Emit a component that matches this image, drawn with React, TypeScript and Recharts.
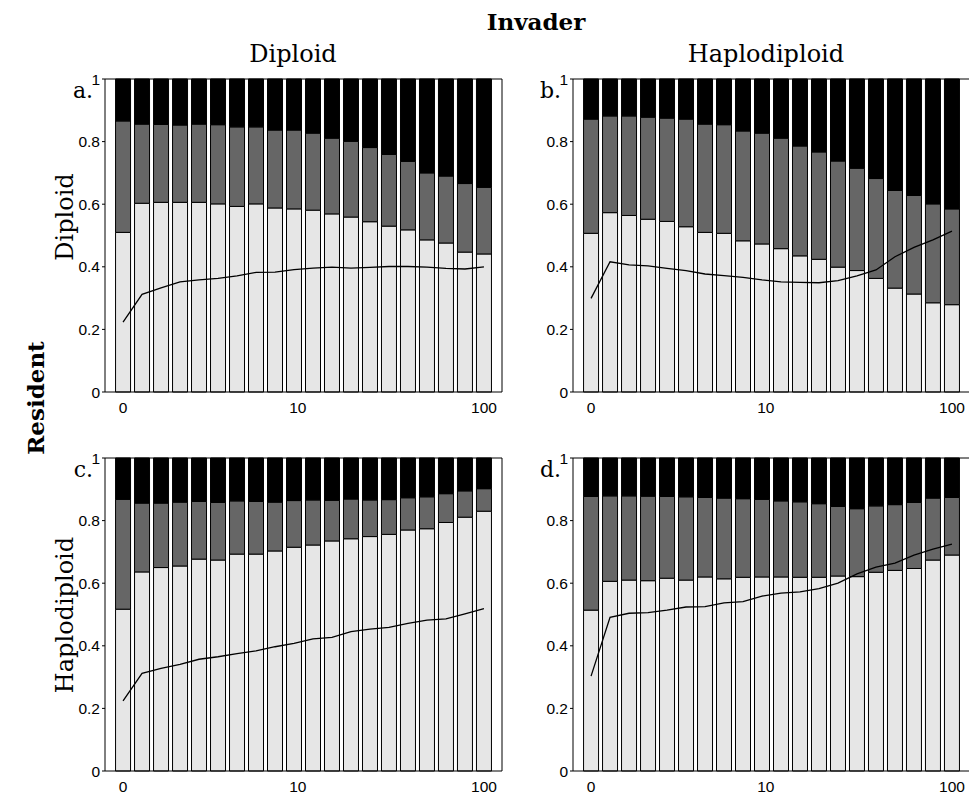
import React from 'react';
import { ComposedChart, Bar, Line, XAxis, YAxis, ReferenceLine } from 'recharts';

// bar slots along the x axis (log-ish spacing, labelled 0 / 10 / 100)
const barSlots = [0, 1, 2, 3, 4, 5, 6, 7, 8, 9, 10, 11, 12, 13, 14, 15, 16, 17, 18, 19];
const xTicks = [0, 9.2, 19];
const xTickLabels = ['0', '10', '100'];
const yTicks = [0, 0.2, 0.4, 0.6, 0.8, 1];
const yTickLabels = ['0', '0.2', '0.4', '0.6', '0.8', '1'];

// a. resident diploid / invader diploid
const aLight = [0.510, 0.603, 0.606, 0.606, 0.606, 0.601, 0.593, 0.601, 0.588, 0.585, 0.581, 0.569, 0.559, 0.544, 0.530, 0.518, 0.486, 0.476, 0.447, 0.441];
const aDark = [0.866, 0.856, 0.855, 0.853, 0.856, 0.854, 0.847, 0.847, 0.837, 0.837, 0.827, 0.811, 0.801, 0.781, 0.759, 0.737, 0.700, 0.690, 0.666, 0.654];
const aLine = [0.223, 0.312, 0.333, 0.352, 0.358, 0.363, 0.371, 0.382, 0.383, 0.391, 0.396, 0.399, 0.396, 0.398, 0.401, 0.401, 0.399, 0.395, 0.393, 0.400];

// b. resident diploid / invader haplodiploid
const bLight = [0.507, 0.573, 0.564, 0.552, 0.545, 0.528, 0.510, 0.507, 0.483, 0.473, 0.458, 0.435, 0.424, 0.399, 0.388, 0.363, 0.332, 0.313, 0.285, 0.279];
const bDark = [0.872, 0.882, 0.882, 0.878, 0.875, 0.872, 0.856, 0.854, 0.834, 0.827, 0.811, 0.786, 0.767, 0.738, 0.715, 0.682, 0.644, 0.628, 0.601, 0.585];
const bLine = [0.299, 0.416, 0.406, 0.403, 0.395, 0.388, 0.377, 0.372, 0.366, 0.358, 0.352, 0.350, 0.349, 0.356, 0.371, 0.390, 0.432, 0.462, 0.486, 0.514];

// c. resident haplodiploid / invader diploid
const cLight = [0.517, 0.636, 0.650, 0.655, 0.677, 0.674, 0.693, 0.693, 0.703, 0.715, 0.722, 0.735, 0.742, 0.749, 0.756, 0.770, 0.774, 0.794, 0.811, 0.830];
const cDark = [0.868, 0.856, 0.856, 0.859, 0.861, 0.858, 0.863, 0.861, 0.859, 0.864, 0.866, 0.865, 0.869, 0.866, 0.867, 0.873, 0.876, 0.886, 0.895, 0.902];
const cLine = [0.224, 0.312, 0.328, 0.341, 0.357, 0.365, 0.375, 0.384, 0.397, 0.408, 0.422, 0.427, 0.445, 0.453, 0.459, 0.472, 0.482, 0.486, 0.502, 0.519];

// d. resident haplodiploid / invader haplodiploid
const dLight = [0.514, 0.606, 0.610, 0.608, 0.616, 0.610, 0.620, 0.614, 0.619, 0.620, 0.620, 0.619, 0.619, 0.623, 0.621, 0.635, 0.641, 0.647, 0.674, 0.690];
const dDark = [0.877, 0.879, 0.879, 0.878, 0.877, 0.876, 0.874, 0.872, 0.870, 0.868, 0.863, 0.860, 0.854, 0.845, 0.838, 0.847, 0.851, 0.858, 0.872, 0.874];
const dLine = [0.303, 0.491, 0.504, 0.506, 0.514, 0.524, 0.525, 0.537, 0.541, 0.559, 0.568, 0.572, 0.583, 0.600, 0.630, 0.651, 0.664, 0.690, 0.709, 0.725];

const PLOT_W = 397;
const PLOT_H = 313;
const Y_AXIS_W = 60;
const X_AXIS_H = 30;
const M_TOP = 10;
const M_RIGHT = 10;

const SERIF = '"DejaVu Serif", serif';
const SANS = '"Liberation Sans", Arial, sans-serif';
const TICK_FONT = 15.5;

function RightTick(props: any) {
  const { x, y } = props;
  return <line x1={x - 5} x2={x} y1={y} y2={y} stroke="#000" strokeWidth={1} />;
}

function LeftTick(props: any) {
  const { x, y, payload } = props;
  return (
    <text x={x} y={y} dy="0.36em" textAnchor="end" fill="#000" fontSize={TICK_FONT} fontFamily={SANS}>
      {yTickLabels[yTicks.indexOf(payload.value)]}
    </text>
  );
}

function BottomTick(props: any) {
  const { x, y, payload } = props;
  return (
    <text x={x} y={y} dy="0.75em" textAnchor="middle" fill="#000" fontSize={TICK_FONT} fontFamily={SANS}>
      {xTickLabels[xTicks.indexOf(payload.value)]}
    </text>
  );
}

interface PanelProps {
  light: number[];
  dark: number[];
  line: number[];
  left: number;
  top: number;
}

function Panel({ light, dark, line, left, top }: PanelProps) {
  const data = barSlots.map((s, i) => ({
    slot: s,
    low: light[i],
    mid: dark[i] - light[i],
    high: 1 - dark[i],
    line: line[i],
  }));

  return (
    <div style={{ position: 'absolute', left: left - Y_AXIS_W, top: top - M_TOP }}>
      <ComposedChart
        width={Y_AXIS_W + PLOT_W + 1 + M_RIGHT}
        height={M_TOP + PLOT_H + X_AXIS_H}
        data={data}
        margin={{ top: M_TOP, right: M_RIGHT, left: 0, bottom: 0 }}
      >
        <XAxis
          dataKey="slot"
          type="number"
          domain={[-0.95, 19.95]}
          ticks={xTicks}
          interval={0}
          allowDataOverflow
          tickLine={false}
          tickSize={0}
          tickMargin={9}
          height={X_AXIS_H}
          axisLine={{ stroke: '#000', strokeWidth: 1 }}
          tick={BottomTick}
        />
        <YAxis
          yAxisId="l"
          type="number"
          domain={[0, 1]}
          ticks={yTicks}
          interval={0}
          width={Y_AXIS_W}
          tickSize={3}
          tickMargin={2}
          tickLine={{ stroke: '#000' }}
          axisLine={{ stroke: '#000', strokeWidth: 1 }}
          tick={LeftTick}
        />
        <YAxis
          yAxisId="r"
          orientation="right"
          type="number"
          domain={[0, 1]}
          ticks={yTicks}
          interval={0}
          width={1}
          tickSize={0}
          tickMargin={0}
          tickLine={false}
          tick={RightTick}
          axisLine={{ stroke: '#000', strokeWidth: 1 }}
        />
        <Bar yAxisId="l" dataKey="low" stackId="s" fill="#e6e6e6" stroke="#000" strokeWidth={1} barSize={15} isAnimationActive={false} />
        <Bar yAxisId="l" dataKey="mid" stackId="s" fill="#666666" stroke="#000" strokeWidth={1} barSize={15} isAnimationActive={false} />
        <Bar yAxisId="l" dataKey="high" stackId="s" fill="#000000" stroke="#000" strokeWidth={1} barSize={15} isAnimationActive={false} />
        <Line yAxisId="l" type="linear" dataKey="line" stroke="#000" strokeWidth={1.3} dot={false} isAnimationActive={false} />
        <ReferenceLine yAxisId="l" y={1} stroke="#000" strokeWidth={1} />
      </ComposedChart>
    </div>
  );
}

const panels = [
  { letter: 'a.', light: aLight, dark: aDark, line: aLine, left: 105, top: 79 },
  { letter: 'b.', light: bLight, dark: bDark, line: bLine, left: 573, top: 79 },
  { letter: 'c.', light: cLight, dark: cDark, line: cLine, left: 105, top: 458 },
  { letter: 'd.', light: dLight, dark: dDark, line: dLine, left: 573, top: 458 },
];

export default function App() {
  return (
    <div
      style={{
        position: 'absolute',
        left: 0,
        top: 0,
        width: 969,
        height: 794,
        overflow: 'hidden',
        background: '#fff',
      }}
    >
      {panels.map((p) => (
        <Panel key={p.letter} light={p.light} dark={p.dark} line={p.line} left={p.left} top={p.top} />
      ))}

      {/* titles, row labels and panel letters */}
      <svg width={969} height={794} style={{ position: 'absolute', left: 0, top: 0, pointerEvents: 'none' }}>
        <text x={536} y={30} textAnchor="middle" fontFamily={SERIF} fontWeight="bold" fontSize={23}>Invader</text>
        <text x={293} y={62} textAnchor="middle" fontFamily={SERIF} fontSize={24}>Diploid</text>
        <text x={766} y={62} textAnchor="middle" fontFamily={SERIF} fontSize={24}>Haplodiploid</text>
        <text transform="translate(44,398) rotate(-90)" textAnchor="middle" fontFamily={SERIF} fontWeight="bold" fontSize={23}>Resident</text>
        <text transform="translate(73,217) rotate(-90)" textAnchor="middle" fontFamily={SERIF} fontSize={24}>Diploid</text>
        <text transform="translate(73,615) rotate(-90)" textAnchor="middle" fontFamily={SERIF} fontSize={24}>Haplodiploid</text>
        {panels.map((p) => (
          <text key={p.letter} x={p.left - 12} y={p.top + 19} textAnchor="end" fontFamily={SERIF} fontSize={22}>
            {p.letter}
          </text>
        ))}
      </svg>
    </div>
  );
}
